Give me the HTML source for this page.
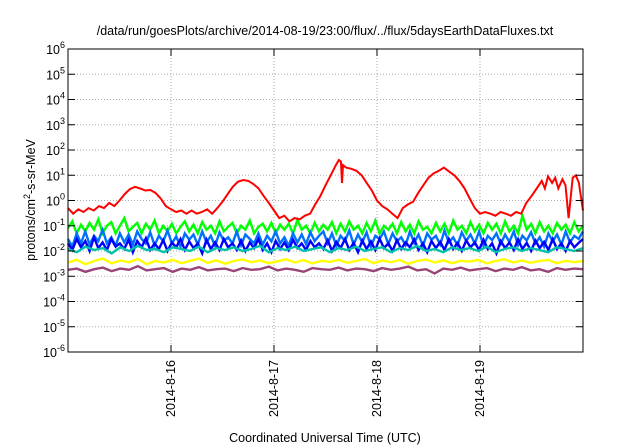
<!DOCTYPE html>
<html><head><meta charset="utf-8"><style>
body{margin:0;background:#fff}
svg{display:block;font-family:"Liberation Sans",sans-serif}
</style></head><body>
<svg id="chart" width="640" height="448" viewBox="0 0 640 448">
<rect width="640" height="448" fill="#fff"/>
<text x="325" y="35" font-size="12.5" text-anchor="middle">/data/run/goesPlots/archive/2014-08-19/23:00/flux/../flux/5daysEarthDataFluxes.txt</text>
<g id="grid"></g>
<g id="series"></g>
<rect x="68" y="49" width="515" height="303" fill="none" stroke="#000" stroke-width="1"/>
<g id="axes"></g>
<text transform="translate(35,200) rotate(-90)" font-size="12.5" text-anchor="middle">protons/cm<tspan baseline-shift="super" font-size="9">2</tspan>-s-sr-MeV</text>
<text x="325" y="442" font-size="12.5" text-anchor="middle">Coordinated Universal Time (UTC)</text>
</svg>
<script>
const dayTicks=[16,17,18,19];
const dayLabels=["2014-8-16","2014-8-17","2014-8-18","2014-8-19"];
const yExps=[6,5,4,3,2,1,0,-1,-2,-3,-4,-5,-6];
const redDays=[15.0,15.05,15.1,15.15,15.2,15.25,15.3,15.35,15.4,15.45,15.5,15.55,15.6,15.65,15.7,15.75,15.8,15.85,15.9,15.95,16.0,16.05,16.1,16.15,16.2,16.25,16.3,16.35,16.4,16.45,16.5,16.55,16.6,16.65,16.7,16.75,16.8,16.85,16.9,16.95,17.0,17.05,17.1,17.15,17.2,17.25,17.3,17.35,17.4,17.45,17.5,17.55,17.6,17.63,17.65,17.66,17.67,17.7,17.75,17.8,17.85,17.9,17.95,18.0,18.05,18.1,18.15,18.2,18.25,18.3,18.35,18.4,18.45,18.5,18.55,18.6,18.65,18.7,18.75,18.8,18.85,18.9,18.95,19.0,19.05,19.1,19.15,19.2,19.25,19.3,19.35,19.4,19.45,19.5,19.55,19.6,19.63,19.66,19.7,19.73,19.76,19.8,19.83,19.86,19.9,19.93,19.96,20.0];
const redVals=[0.5,0.3,0.45,0.35,0.5,0.4,0.6,0.5,0.8,0.6,1.0,1.8,2.8,3.5,3.0,2.5,2.6,2.0,1.2,0.6,0.45,0.35,0.4,0.3,0.4,0.3,0.35,0.45,0.3,0.5,0.9,1.8,3.5,5.5,6.5,6.0,4.5,3.0,1.5,0.8,0.4,0.2,0.25,0.15,0.2,0.18,0.25,0.3,0.7,1.5,4.0,10,25,40,35,5,25,20,18,15,10,5,2.5,1.0,0.6,0.45,0.3,0.2,0.5,0.7,0.9,2.0,4.0,8.0,12,15,20,14,10,6,3,1.2,0.5,0.3,0.35,0.3,0.25,0.35,0.3,0.25,0.35,0.3,0.8,1.5,3,6,3,9,5,8,3,7,4,0.2,8,10,5,0.4];
const greenVals=[0.08,0.15,0.05,0.11,0.06,0.13,0.07,0.18,0.05,0.1,0.14,0.05,0.1,0.2,0.06,0.09,0.13,0.05,0.12,0.07,0.16,0.05,0.1,0.06,0.12,0.05,0.09,0.15,0.06,0.11,0.05,0.14,0.07,0.1,0.05,0.15,0.06,0.09,0.13,0.05,0.1,0.07,0.16,0.05,0.09,0.12,0.06,0.13,0.05,0.11,0.07,0.12,0.05,0.17,0.07,0.1,0.05,0.13,0.06,0.11,
0.07,0.14,0.05,0.12,0.06,0.15,0.07,0.1,0.05,0.13,0.06,0.16,0.05,0.1,0.07,0.12,0.05,0.14,0.06,0.11,0.05,0.15,0.07,0.09,0.05,0.13,0.06,0.12,0.05,0.16,0.07,0.1,0.05,0.14,0.06,0.11,0.05,0.13,0.07,0.12,0.05,0.15,0.06,0.1,0.05,0.25,0.07,0.12,0.05,0.14,0.06,0.1,0.05,0.13,0.07,0.11,0.05,0.14,0.06,0.1];
const lblueVals=[0.03,0.015,0.05,0.02,0.06,0.018,0.04,0.025,0.07,0.02,0.035,0.016,0.05,0.022,0.045,0.018,0.06,0.03,0.02,0.055,0.017,0.04,0.024,0.065,0.02,0.038,0.015,0.05,0.028,0.045,0.018,0.06,0.022,0.04,0.016,0.055,0.025,0.035,0.02,0.06,0.017,0.045,0.03,0.02,0.05,0.018,0.04,0.024,0.06,0.02,0.035,0.016,0.05,0.022,0.045,0.019,0.055,0.025,0.04,0.06,
0.02,0.05,0.016,0.04,0.025,0.065,0.018,0.045,0.022,0.055,0.015,0.04,0.03,0.06,0.019,0.05,0.024,0.035,0.017,0.06,0.021,0.045,0.016,0.05,0.028,0.04,0.018,0.065,0.022,0.035,0.017,0.055,0.025,0.045,0.02,0.06,0.016,0.04,0.027,0.05,0.019,0.045,0.023,0.06,0.017,0.04,0.026,0.055,0.02,0.035,0.015,0.05,0.024,0.045,0.018,0.06,0.022,0.04,0.03,0.06];
const dblueVals=[0.02,0.011,0.03,0.014,0.025,0.01,0.035,0.013,0.022,0.011,0.03,0.015,0.02,0.012,0.028,0.009,0.025,0.014,0.032,0.011,0.02,0.012,0.027,0.01,0.022,0.014,0.03,0.011,0.024,0.013,0.02,0.008,0.028,0.012,0.022,0.011,0.03,0.014,0.02,0.011,0.026,0.01,0.022,0.013,0.03,0.011,0.02,0.009,0.025,0.012,0.022,0.011,0.028,0.013,0.02,0.011,0.025,0.014,0.02,0.012,
0.027,0.01,0.023,0.013,0.03,0.011,0.021,0.009,0.026,0.012,0.024,0.011,0.031,0.013,0.02,0.01,0.027,0.012,0.022,0.014,0.029,0.011,0.02,0.009,0.025,0.013,0.023,0.011,0.03,0.012,0.021,0.01,0.026,0.014,0.022,0.011,0.028,0.012,0.02,0.008,0.025,0.013,0.022,0.011,0.029,0.012,0.021,0.01,0.026,0.013,0.023,0.011,0.03,0.012,0.02,0.01,0.025,0.014,0.021,0.03];
const tealVals=[0.012,0.009,0.015,0.011,0.013,0.008,0.014,0.01,0.016,0.011,0.012,0.009,0.014,0.012,0.01,0.015,0.009,0.013,0.011,0.014,0.01,0.012,0.016,0.009,0.013,0.011,0.015,0.01,0.012,0.014,0.009,0.013,0.011,0.015,0.01,0.012,0.014,0.009,0.013,0.011,0.016,0.01,0.012,0.009,0.014,0.011,0.013,0.01,0.015,0.009,0.012,0.014,0.01,0.013,0.011,0.009,0.014,0.012,0.01,0.013];
const yellowVals=[0.0035,0.0045,0.003,0.004,0.005,0.0032,0.0042,0.0036,0.0048,0.003,0.004,0.0035,0.0045,0.0033,0.0041,0.005,0.0034,0.0043,0.0031,0.004,0.0046,0.0036,0.0042,0.0033,0.0039,0.0047,0.0035,0.0044,0.0032,0.0041,0.0037,0.0045,0.0034,0.004,0.0048,0.0033,0.0042,0.0036,0.0044,0.0031,0.004,0.0046,0.0035,0.0043,0.0033,0.0041,0.0038,0.0045,0.0032,0.004,0.0047,0.0035,0.0042,0.0034,0.004,0.0045,0.0033,0.0041,0.0036,0.004];
const purpleVals=[0.0018,0.002,0.0015,0.0019,0.0022,0.0016,0.002,0.0018,0.0025,0.0017,0.0019,0.0021,0.0015,0.002,0.0018,0.0023,0.0017,0.0019,0.002,0.0016,0.0021,0.0018,0.0019,0.0024,0.0017,0.002,0.0018,0.0015,0.0021,0.0019,0.0018,0.0022,0.0017,0.002,0.0019,0.0016,0.0021,0.0018,0.002,0.0024,0.0017,0.0019,0.0013,0.002,0.0018,0.0022,0.0017,0.0019,0.0021,0.0016,0.002,0.0018,0.0023,0.0017,0.0019,0.0015,0.0021,0.0018,0.002,0.0019];
const X0=68,X1=583,Y0=352,Y1=49,D0=15,D1=20,E0=-6,E1=6;
const xs=d=>X0+(d-D0)/(D1-D0)*(X1-X0);
const ys=v=>Y0-(Math.log10(v)-E0)/(E1-E0)*(Y0-Y1);
const NS="http://www.w3.org/2000/svg";
const grid=document.getElementById('grid'),axes=document.getElementById('axes'),ser=document.getElementById('series');
function mk(tag,parent){const e=document.createElementNS(NS,tag);parent.appendChild(e);return e;}
yExps.forEach(e=>{const y=ys(Math.pow(10,e));
 if(e!==6&&e!==-6){const g=mk('line',grid);
 
 
 g.setAttribute('x1',X0);g.setAttribute('x2',X1);g.setAttribute('y1',y);g.setAttribute('y2',y);g.setAttribute('stroke','#aaa');g.setAttribute('stroke-dasharray','1,2');}
 [[X0,X0+7],[X1-7,X1]].forEach(p=>{const t=mk('line',axes);
 
 
 t.setAttribute('x1',p[0]);t.setAttribute('x2',p[1]);t.setAttribute('y1',y);t.setAttribute('y2',y);t.setAttribute('stroke','#000');});
 const tx=mk('text',axes);
 
 
 tx.setAttribute('x',X0-3);tx.setAttribute('y',y+5);tx.setAttribute('text-anchor','end');tx.setAttribute('font-size','12.5');
 tx.innerHTML='10<tspan dy="-6" font-size="9">'+e+'</tspan>';
});
dayTicks.forEach((d,i)=>{const x=xs(d);
 const g=mk('line',grid);
 
 
 g.setAttribute('x1',x);g.setAttribute('x2',x);g.setAttribute('y1',Y1);g.setAttribute('y2',Y0);g.setAttribute('stroke','#aaa');g.setAttribute('stroke-dasharray','1,2');
 [[Y0,Y0-7],[Y1,Y1+7]].forEach(p=>{const t=mk('line',axes);
 
 
 t.setAttribute('x1',x);t.setAttribute('x2',x);t.setAttribute('y1',p[0]);t.setAttribute('y2',p[1]);t.setAttribute('stroke','#000');});
 const tx=mk('text',axes);
 
 
 tx.setAttribute('transform','translate('+(x+4)+','+(Y0+8)+') rotate(-90)');tx.setAttribute('text-anchor','end');tx.setAttribute('font-size','12.5');
 tx.textContent=dayLabels[i];
});
function drawNoise(vals,color,name){
 const pts=vals.map((v,i)=>xs(D0+i*(D1-D0)/(vals.length-1)).toFixed(1)+','+ys(v).toFixed(1)).join(' ');
 const p=mk('polyline',ser);
 
 
 p.setAttribute('points',pts);p.setAttribute('fill','none');p.setAttribute('stroke',color);p.setAttribute('stroke-width','2.4');
}
drawNoise(greenVals,'#00ff00','series-green');
drawNoise(lblueVals,'#0070ff','series-light-blue');
drawNoise(dblueVals,'#0000ff','series-dark-blue');
drawNoise(tealVals,'#00c0a8','series-teal');
drawNoise(yellowVals,'#ffff00','series-yellow');
drawNoise(purpleVals,'#994477','series-purple');
const rp=mk('polyline',ser);


rp.setAttribute('points',redDays.map((d,i)=>xs(d).toFixed(1)+','+ys(redVals[i]).toFixed(1)).join(' '));
rp.setAttribute('fill','none');rp.setAttribute('stroke','#ff0000');rp.setAttribute('stroke-width','2');
</script>
</body></html>
